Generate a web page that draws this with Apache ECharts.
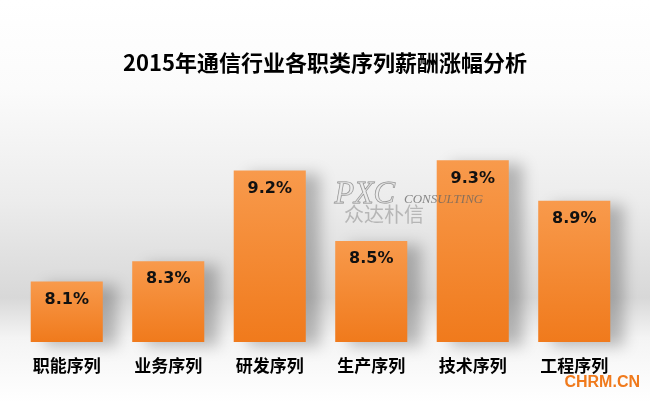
<!DOCTYPE html>
<html><head><meta charset="utf-8">
<script src="https://cdn.jsdelivr.net/npm/echarts@6/dist/echarts.min.js"></script>
<style>html,body{margin:0;padding:0;background:#fff}#c{width:650px;height:402px}</style>
</head><body><div id="c"></div>
<script>
const titleText = '2015年通信行业各职类序列薪酬涨幅分析';
const categories = ['职能序列','业务序列','研发序列','生产序列','技术序列','工程序列'];
const values = [8.1, 8.3, 9.2, 8.5, 9.3, 8.9];

const chart = echarts.init(document.getElementById('c'));
chart.setOption({
  backgroundColor: new echarts.graphic.LinearGradient(0,0,0,1,[
    {offset:0, color:'#ffffff'},
    {offset:0.22, color:'#fbfbfb'},
    {offset:0.5, color:'#ececec'},
    {offset:0.74, color:'#d8d8d8'},
    {offset:0.84, color:'#f4f4f4'},
    {offset:1, color:'#ffffff'}
  ]),
  animation:false,
  title:{text:titleText, left:'center', top:47,
    textStyle:{fontFamily:'Noto Sans CJK SC', fontWeight:'bold', fontSize:22, color:'#000'}},
  grid:{left:16, right:25, top:120, bottom:60},
  xAxis:{type:'category', data:categories,
    axisLine:{show:false}, axisTick:{show:false},
    axisLabel:{margin:15, fontFamily:'Noto Sans CJK SC', fontWeight:'bold', fontSize:17, color:'#000'}},
  yAxis:{type:'value', min:7.5, max:9.7, show:false, splitLine:{show:false}},
  series:[{
    type:'bar', data:values, barCategoryGap:'29%',
    itemStyle:{
      color:new echarts.graphic.LinearGradient(0,0,0,1,[
        {offset:0,color:'#f89a4c'},{offset:1,color:'#f07a1c'}]),
      shadowColor:'rgba(0,0,0,0.25)', shadowBlur:14, shadowOffsetX:14, shadowOffsetY:4
    },
    label:{show:true, position:'insideTop', distance:10,
      formatter:p=>p.value.toFixed(1)+'%',
      fontFamily:'DejaVu Sans', fontWeight:'bold', fontSize:16, color:'#111'}
  }],
  graphic:[
    {type:'text', z:100, left:334, top:178, style:{text:'PXC', font:'italic 32px "Liberation Serif"', fill:'rgba(235,235,235,0.6)', stroke:'rgba(110,110,110,0.8)', lineWidth:1}},
    {type:'text', z:100, left:404, top:193, style:{text:'CONSULTING', font:'italic 13px "Liberation Serif"', fill:'rgba(100,100,100,0.75)'}},
    {type:'text', z:100, left:344, top:204, style:{text:'众达朴信', font:'20px "Noto Sans CJK SC"', fill:'rgba(140,140,140,0.55)'}},
    {type:'text', z:100, right:10, top:375, style:{text:'CHRM.CN', font:'bold 16px "Liberation Sans"', fill:'#f07a1c'}}
  ]
});
</script></body></html>
